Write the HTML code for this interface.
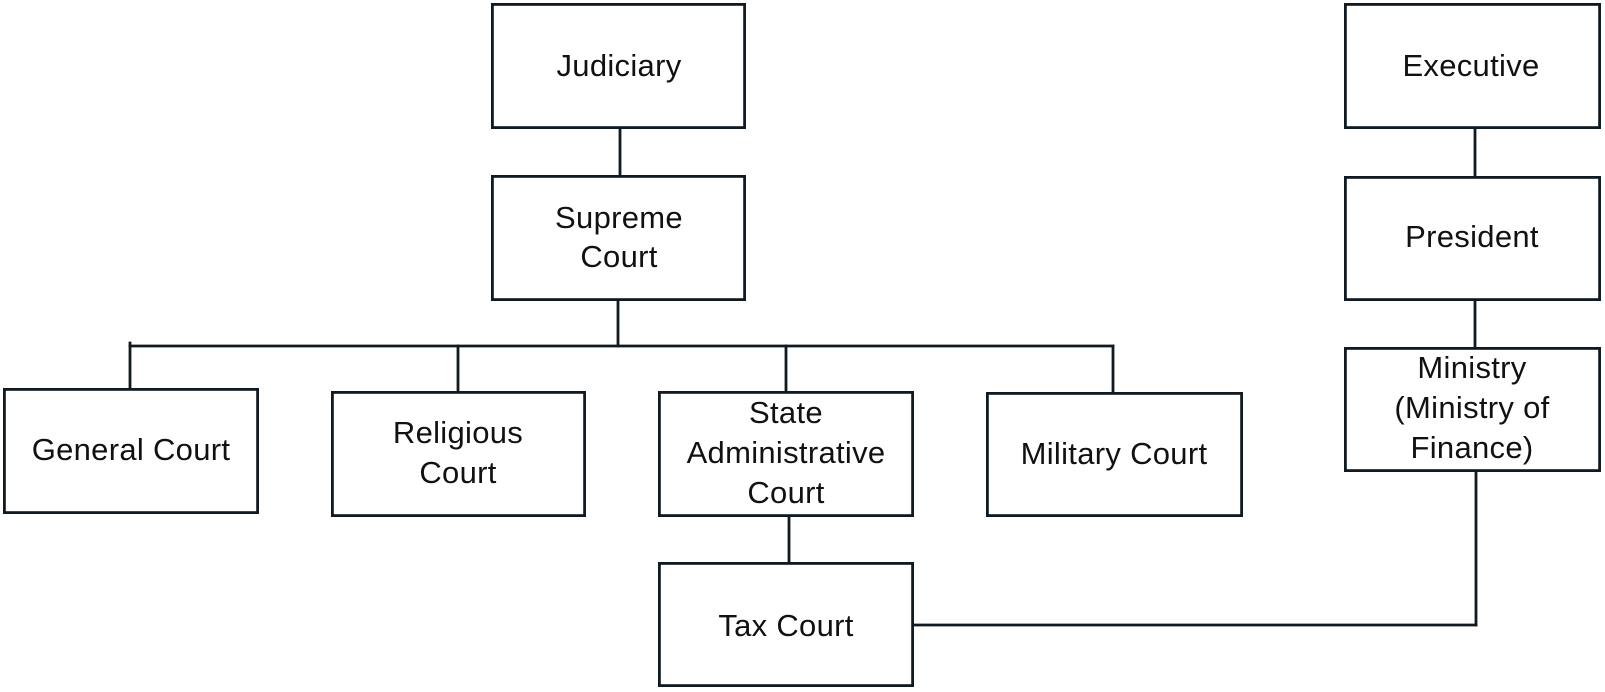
<!DOCTYPE html>
<html>
<head>
<meta charset="utf-8">
<style>
  html, body { margin: 0; padding: 0; background: #ffffff; }
  body { width: 1605px; height: 692px; overflow: hidden; }
  svg { display: block; }
  text { font-family: "Liberation Sans", "DejaVu Sans", sans-serif; font-size: 31px; fill: #111111; letter-spacing: 0.3px; }
</style>
</head>
<body>
<svg width="1605" height="692" viewBox="0 0 1605 692" xmlns="http://www.w3.org/2000/svg">
  <g fill="#ffffff" stroke="#0f1a22" stroke-width="2.8">
    <rect x="492.4" y="4.4" width="252.2" height="123.2"/>
    <rect x="492.4" y="176.4" width="252.2" height="123.2"/>
    <rect x="1345.4" y="4.4" width="254.2" height="123.2"/>
    <rect x="1345.4" y="177.4" width="254.2" height="122.2"/>
    <rect x="1345.4" y="348.4" width="254.2" height="122.2"/>
    <rect x="4.4" y="389.4" width="253.2" height="123.2"/>
    <rect x="332.4" y="392.4" width="252.2" height="123.2"/>
    <rect x="659.4" y="392.4" width="253.2" height="123.2"/>
    <rect x="987.4" y="393.4" width="254.2" height="122.2"/>
    <rect x="659.4" y="563.4" width="253.2" height="122.2"/>
  </g>

  <g stroke="#0f1a22" stroke-width="2.8" fill="none" stroke-linecap="square">
    <line x1="620" y1="129" x2="620" y2="175"/>
    <line x1="618" y1="301" x2="618" y2="346"/>
    <line x1="130" y1="346" x2="1113" y2="346"/>
    <line x1="130" y1="343" x2="130" y2="388"/>
    <line x1="458" y1="346" x2="458" y2="391"/>
    <line x1="786" y1="346" x2="786" y2="391"/>
    <line x1="1113" y1="346" x2="1113" y2="392"/>
    <line x1="789" y1="517" x2="789" y2="562"/>
    <line x1="1475" y1="129" x2="1475" y2="176"/>
    <line x1="1475" y1="301" x2="1475" y2="347"/>
    <line x1="1476" y1="472" x2="1476" y2="625"/>
    <line x1="914" y1="625" x2="1476" y2="625"/>
  </g>

  <g text-anchor="middle">
    <text x="619" y="76">Judiciary</text>
    <text x="619" y="228">Supreme</text>
    <text x="619" y="267">Court</text>
    <text x="1471" y="76">Executive</text>
    <text x="1472" y="247">President</text>
    <text x="1472" y="378">Ministry</text>
    <text x="1472" y="418">(Ministry of</text>
    <text x="1472" y="458">Finance)</text>
    <text x="131" y="460">General Court</text>
    <text x="458" y="443">Religious</text>
    <text x="458" y="483">Court</text>
    <text x="786" y="423">State</text>
    <text x="786" y="463">Administrative</text>
    <text x="786" y="503">Court</text>
    <text x="1114" y="464">Military Court</text>
    <text x="786" y="636">Tax Court</text>
  </g>
</svg>
</body>
</html>
